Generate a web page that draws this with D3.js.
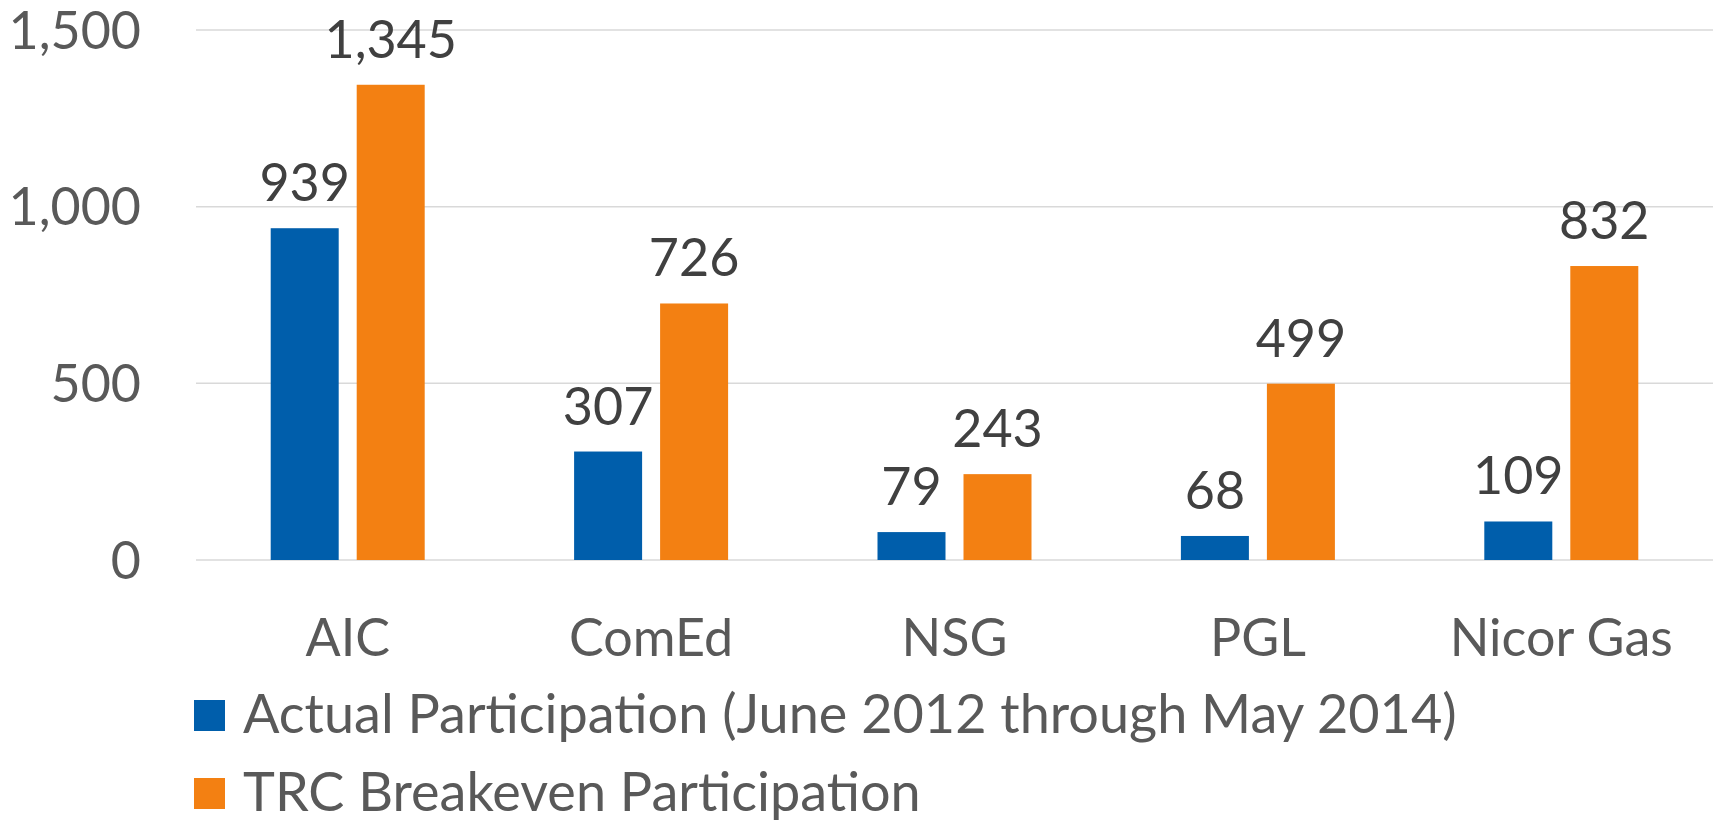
<!DOCTYPE html>
<html>
<head>
<meta charset="utf-8">
<script src="https://cdn.jsdelivr.net/npm/d3@7"></script>
<style>
  body { margin: 0; background: #fff; }
  text { font-family: Lato, "Open Sans", sans-serif; }
</style>
</head>
<body>
<svg id="chart" width="1714" height="823"></svg>
<script>
var categories = ["AIC", "ComEd", "NSG", "PGL", "Nicor Gas"];
var seriesNames = ["Actual Participation (June 2012 through May 2014)", "TRC Breakeven Participation"];
var actual = [939, 307, 79, 68, 109];
var breakeven = [1345, 726, 243, 499, 832];
var yTicks = [0, 500, 1000, 1500];
var colors = ["#005EAB", "#F38012"];

var series = [actual, breakeven];
var svg = d3.select("#chart");

var x0 = d3.scaleBand().domain(categories).range([196, 1713]);
var bw = x0.bandwidth();
var x1 = d3.scaleBand().domain([0, 1])
  .range([bw / 2 - 77, bw / 2 + 77])
  .paddingInner(18 / 86);
var y = d3.scaleLinear().domain([0, 1500]).range([560, 30]);

// gridlines
svg.append("g").selectAll("line")
  .data(yTicks)
  .join("line")
  .attr("x1", 196).attr("x2", 1713)
  .attr("y1", function(d) { return y(d); })
  .attr("y2", function(d) { return y(d); })
  .attr("stroke", "#D9D9D9")
  .attr("stroke-width", 1.5);

// y labels
svg.append("g").selectAll("text")
  .data(yTicks)
  .join("text")
  .attr("x", 141)
  .attr("y", function(d) { return y(d); })
  .attr("dy", "0.36em")
  .attr("text-anchor", "end")
  .attr("fill", "#595959")
  .attr("font-size", 52)
  .text(d3.format(","));

// bars + labels
var groups = svg.append("g").selectAll("g")
  .data(categories)
  .join("g")
  .attr("transform", function(d) { return "translate(" + x0(d) + ",0)"; });

series.forEach(function(vals, s) {
  groups.append("rect")
    .attr("x", x1(s))
    .attr("width", x1.bandwidth())
    .attr("y", function(d, i) { return y(vals[i]); })
    .attr("height", function(d, i) { return y(0) - y(vals[i]); })
    .attr("fill", colors[s]);

  groups.append("text")
    .attr("x", x1(s) + x1.bandwidth() / 2)
    .attr("y", function(d, i) { return y(vals[i]) - 27; })
    .attr("text-anchor", "middle")
    .attr("fill", "#404040")
    .attr("font-size", 52)
    .text(function(d, i) { return d3.format(",")(vals[i]); });
});

// category labels
svg.append("g").selectAll("text")
  .data(categories)
  .join("text")
  .attr("x", function(d) { return x0(d) + bw / 2; })
  .attr("y", 656)
  .attr("text-anchor", "middle")
  .attr("fill", "#595959")
  .attr("font-size", 52)
  .text(function(d) { return d; });

// legend
var legend = svg.append("g").selectAll("g")
  .data(seriesNames)
  .join("g")
  .attr("transform", function(d, i) { return "translate(194," + (700 + i * 78) + ")"; });

legend.append("rect")
  .attr("width", 31).attr("height", 31)
  .attr("fill", function(d, i) { return colors[i]; });

legend.append("text")
  .attr("x", 49)
  .attr("y", 33)
  .attr("fill", "#595959")
  .attr("font-size", 54)
  .text(function(d) { return d; });
</script>
</body>
</html>
